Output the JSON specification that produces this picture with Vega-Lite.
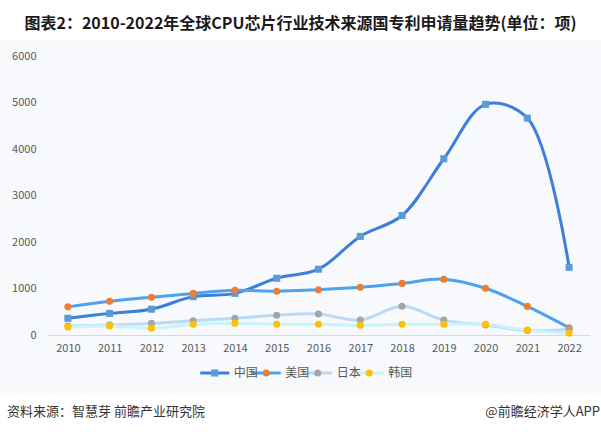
{
  "$schema": "https://vega.github.io/schema/vega-lite/v6.json",
  "background": "#f7f9fc",
  "padding": 0,
  "spacing": 10,
  "config": {
    "font": "Noto Sans CJK SC",
    "view": {"stroke": null}
  },
  "datasets": {
    "header": [
      {"text": "图表2：2010-2022年全球CPU芯片行业技术来源国专利申请量趋势(单位：项)"}
    ],
    "patents": [
      {"country": "中国", "year": "2010", "count": 360},
      {"country": "中国", "year": "2011", "count": 465},
      {"country": "中国", "year": "2012", "count": 555},
      {"country": "中国", "year": "2013", "count": 825},
      {"country": "中国", "year": "2014", "count": 895},
      {"country": "中国", "year": "2015", "count": 1220},
      {"country": "中国", "year": "2016", "count": 1415},
      {"country": "中国", "year": "2017", "count": 2120},
      {"country": "中国", "year": "2018", "count": 2570},
      {"country": "中国", "year": "2019", "count": 3790},
      {"country": "中国", "year": "2020", "count": 4960},
      {"country": "中国", "year": "2021", "count": 4665},
      {"country": "中国", "year": "2022", "count": 1455},
      {"country": "美国", "year": "2010", "count": 605},
      {"country": "美国", "year": "2011", "count": 725},
      {"country": "美国", "year": "2012", "count": 810},
      {"country": "美国", "year": "2013", "count": 895},
      {"country": "美国", "year": "2014", "count": 960},
      {"country": "美国", "year": "2015", "count": 940},
      {"country": "美国", "year": "2016", "count": 975},
      {"country": "美国", "year": "2017", "count": 1025},
      {"country": "美国", "year": "2018", "count": 1110},
      {"country": "美国", "year": "2019", "count": 1200},
      {"country": "美国", "year": "2020", "count": 1005},
      {"country": "美国", "year": "2021", "count": 615},
      {"country": "美国", "year": "2022", "count": 155},
      {"country": "日本", "year": "2010", "count": 195},
      {"country": "日本", "year": "2011", "count": 215},
      {"country": "日本", "year": "2012", "count": 250},
      {"country": "日本", "year": "2013", "count": 305},
      {"country": "日本", "year": "2014", "count": 360},
      {"country": "日本", "year": "2015", "count": 425},
      {"country": "日本", "year": "2016", "count": 450},
      {"country": "日本", "year": "2017", "count": 320},
      {"country": "日本", "year": "2018", "count": 620},
      {"country": "日本", "year": "2019", "count": 320},
      {"country": "日本", "year": "2020", "count": 215},
      {"country": "日本", "year": "2021", "count": 95},
      {"country": "日本", "year": "2022", "count": 125},
      {"country": "韩国", "year": "2010", "count": 170},
      {"country": "韩国", "year": "2011", "count": 195},
      {"country": "韩国", "year": "2012", "count": 145},
      {"country": "韩国", "year": "2013", "count": 230},
      {"country": "韩国", "year": "2014", "count": 255},
      {"country": "韩国", "year": "2015", "count": 230},
      {"country": "韩国", "year": "2016", "count": 230},
      {"country": "韩国", "year": "2017", "count": 210},
      {"country": "韩国", "year": "2018", "count": 230},
      {"country": "韩国", "year": "2019", "count": 230},
      {"country": "韩国", "year": "2020", "count": 230},
      {"country": "韩国", "year": "2021", "count": 105},
      {"country": "韩国", "year": "2022", "count": 40}
    ],
    "legend": [
      {"country": "中国"},
      {"country": "美国"},
      {"country": "日本"},
      {"country": "韩国"}
    ],
    "footer": [
      {"side": "left", "text": "资料来源：智慧芽 前瞻产业研究院"},
      {"side": "right", "text": "@前瞻经济学人APP"}
    ]
  },
  "vconcat": [
    {
      "width": 601,
      "height": 40,
      "view": {"fill": "white", "stroke": null},
      "data": {"name": "header"},
      "mark": {"type": "text", "fontSize": 16, "fontWeight": "bold", "color": "#1a1a1a", "baseline": "middle", "dy": 4},
      "encoding": {"text": {"field": "text"}}
    },
    {
      "width": 601,
      "height": 279,
      "data": {"name": "patents"},
      "encoding": {
        "x": {
          "field": "year",
          "type": "ordinal",
          "title": null,
          "scale": {"type": "point", "padding": 0.5, "range": [47, 590]},
          "axis": {"labelAngle": 0, "ticks": false, "domainColor": "#d9d9d9", "labelPadding": 7, "labelFontSize": 11, "labelColor": "#595959"}
        },
        "y": {
          "field": "count",
          "type": "quantitative",
          "title": null,
          "scale": {"domain": [0, 6000], "nice": false},
          "axis": {"values": [0, 1000, 2000, 3000, 4000, 5000, 6000], "format": "d", "offset": -47, "domain": false, "ticks": false, "grid": false, "labelPadding": 11, "labelFontSize": 11, "labelColor": "#595959"}
        }
      },
      "layer": [
        {
          "mark": {"type": "line", "interpolate": "catmull-rom", "strokeWidth": 3},
          "encoding": {
            "stroke": {
              "field": "country",
              "type": "nominal",
              "scale": {"domain": ["中国", "美国", "日本", "韩国"], "range": ["#3b7fdb", "#4ea1ef", "#bcd9f6", "#c8f4fb"]},
              "legend": null
            }
          }
        },
        {
          "mark": {"type": "point", "filled": true, "opacity": 1, "size": 50},
          "encoding": {
            "fill": {
              "field": "country",
              "type": "nominal",
              "scale": {"domain": ["中国", "美国", "日本", "韩国"], "range": ["#5b9bd5", "#ed7d31", "#a5a5a5", "#ffc000"]},
              "legend": null
            },
            "shape": {
              "field": "country",
              "type": "nominal",
              "scale": {"domain": ["中国", "美国", "日本", "韩国"], "range": ["square", "circle", "circle", "circle"]},
              "legend": null
            }
          }
        }
      ]
    },
    {
      "width": 601,
      "height": 20,
      "data": {"name": "legend"},
      "encoding": {
        "x": {
          "field": "country",
          "type": "nominal",
          "scale": {"type": "point", "domain": ["中国", "美国", "日本", "韩国"], "range": [189, 395]},
          "axis": null
        }
      },
      "layer": [
        {
          "mark": {"type": "tick", "orient": "horizontal", "size": 29, "thickness": 3, "opacity": 1},
          "encoding": {
            "color": {
              "field": "country",
              "type": "nominal",
              "scale": {"domain": ["中国", "美国", "日本", "韩国"], "range": ["#3b7fdb", "#4ea1ef", "#bcd9f6", "#c8f4fb"]},
              "legend": null
            }
          }
        },
        {
          "mark": {"type": "point", "filled": true, "opacity": 1, "size": 50},
          "encoding": {
            "fill": {
              "field": "country",
              "type": "nominal",
              "scale": {"domain": ["中国", "美国", "日本", "韩国"], "range": ["#5b9bd5", "#ed7d31", "#a5a5a5", "#ffc000"]},
              "legend": null
            },
            "shape": {
              "field": "country",
              "type": "nominal",
              "scale": {"domain": ["中国", "美国", "日本", "韩国"], "range": ["square", "circle", "circle", "circle"]},
              "legend": null
            }
          }
        },
        {
          "mark": {"type": "text", "align": "left", "baseline": "middle", "dx": 19, "fontSize": 12, "color": "#595959"},
          "encoding": {"text": {"field": "country"}}
        }
      ]
    },
    {
      "width": 601,
      "height": 37,
      "view": {"fill": "white", "stroke": null},
      "data": {"name": "footer"},
      "encoding": {
        "x": {
          "field": "side",
          "type": "nominal",
          "scale": {"type": "point", "domain": ["left", "right"], "padding": 0},
          "axis": null
        },
        "text": {"field": "text"}
      },
      "layer": [
        {
          "transform": [{"filter": "datum.side === 'left'"}],
          "mark": {"type": "text", "align": "left", "baseline": "middle", "dx": 7, "fontSize": 13, "color": "#333333"}
        },
        {
          "transform": [{"filter": "datum.side === 'right'"}],
          "mark": {"type": "text", "align": "right", "baseline": "middle", "dx": -1, "fontSize": 13, "color": "#333333"}
        }
      ]
    }
  ]
}
